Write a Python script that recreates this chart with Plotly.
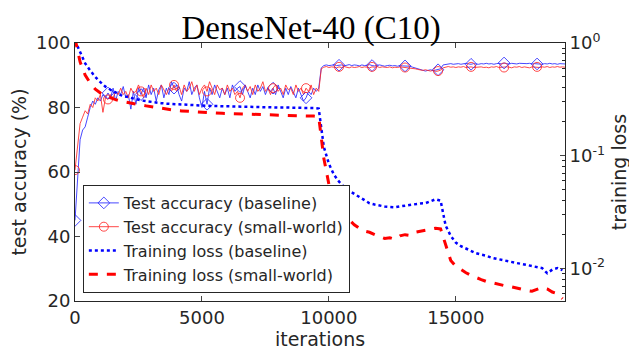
import plotly.graph_objects as go

# ---------------- data ----------------
acc_step = 100
acc_baseline = [
    45, 56, 70, 73, 74, 77, 80, 82, 81, 83,
    82, 84, 83, 84.5, 83, 86, 82, 85, 84, 86.5,
    83, 84, 79.5, 85, 81, 86, 84, 86, 83, 87,
    84, 86, 82, 85.5, 87, 83, 86, 84, 88, 86,
    87, 84, 82, 86, 85, 88, 84, 86, 87, 83,
    80, 85, 81, 86, 84, 87, 85, 83, 86, 84,
    86, 83, 87, 85, 86, 86.5, 84, 87, 85, 83,
    86, 84, 87, 85, 86.5, 84, 86, 85, 86, 84,
    87, 85, 83, 86, 84, 86.5, 85, 83, 86, 84,
    82, 83, 85, 84, 86, 85, 86, 92.3, 93.0, 93.2,
    93.0, 93.1, 93.3, 93.0, 93.1, 93.2, 92.9, 93.1, 93.3, 93.0,
    93.2, 93.1, 92.9, 93.2, 93.0, 93.1, 93.3, 93.0, 92.9, 93.1,
    93.2, 93.0, 92.8, 93.0, 93.1, 92.9, 93.0, 92.8, 93.0, 92.9,
    92.9, 92.7, 92.8, 92.5, 92.3, 92.0, 91.8, 91.5, 91.3, 91.5,
    91.7, 91.4, 91.6, 91.7, 92.0, 93.2, 93.4, 93.5, 93.6, 93.4,
    93.5, 93.6, 93.4, 93.5, 93.7, 93.5, 93.4, 93.6, 93.5, 93.4,
    93.6, 93.5, 93.7, 93.5, 93.6, 93.4, 93.6, 93.7, 93.5, 93.8,
    93.6, 93.5, 93.7, 93.6, 93.5, 93.7, 93.6, 93.5, 93.6, 93.7,
    93.5, 93.6, 93.5, 93.6, 93.4, 93.6, 93.5, 93.7, 93.5, 93.6,
    93.4, 93.6, 93.5, 93.5,
]
acc_smallworld = [
    60.6, 68, 75, 77, 79, 78, 81, 80, 83, 82,
    84, 78.5, 83, 82.5, 84, 83, 85, 84, 86, 84,
    85, 83, 86, 84.5, 85, 87, 85, 83, 86, 84,
    87, 85, 86, 84, 87, 85.5, 84, 86, 85, 87,
    85, 86.5, 84, 87, 85, 86, 88, 85, 87, 84,
    86, 87, 85, 88, 86, 84, 87, 85.5, 86, 84,
    87, 85, 86, 84, 85, 83, 86, 87, 85, 86.5,
    84, 87, 85, 86, 88, 85, 86, 84, 86, 87,
    85, 86, 84, 87, 85.5, 86, 84, 87, 85, 86,
    84, 86, 85, 87, 84, 86, 85, 92.0, 92.5, 92.7,
    92.4, 92.6, 92.5, 92.3, 92.6, 92.4, 92.7, 92.5, 92.3, 92.6,
    92.4, 92.5, 92.7, 92.4, 92.6, 92.5, 92.3, 92.6, 92.5, 92.7,
    92.4, 92.6, 92.5, 92.4, 92.6, 92.3, 92.5, 92.4, 92.6, 92.5,
    92.4, 92.5, 92.3, 92.2, 92.0, 91.8, 91.6, 91.5, 91.7, 91.4,
    91.3, 91.5, 91.2, 91.3, 91.6, 92.3, 92.5, 92.7, 92.5, 92.6,
    92.4, 92.6, 92.5, 92.7, 92.4, 92.6, 92.6, 92.4, 92.5, 92.7,
    92.6, 92.4, 92.5, 92.3, 92.6, 92.5, 92.7, 92.4, 92.5, 92.4,
    92.6, 92.5, 92.3, 92.6, 92.5, 92.7, 92.4, 92.6, 92.5, 92.3,
    92.6, 92.5, 92.6, 92.4, 92.6, 92.5, 92.7, 92.4, 92.6, 92.5,
    92.7, 92.5, 92.6, 92.5,
]
marker_every = 13  # a marker every 1300 iterations

loss_step = 200
loss_baseline = [
    1.05, 0.82, 0.66, 0.57, 0.50, 0.45, 0.41, 0.385, 0.365, 0.345,
    0.335, 0.325, 0.317, 0.31, 0.305, 0.30, 0.297, 0.293, 0.29, 0.288,
    0.286, 0.284, 0.282, 0.281, 0.279, 0.278, 0.277, 0.276, 0.276, 0.275,
    0.274, 0.273, 0.273, 0.272, 0.272, 0.271, 0.27, 0.27, 0.27, 0.269,
    0.268, 0.268, 0.268, 0.267, 0.267, 0.266, 0.266, 0.265, 0.262, 0.12,
    0.085, 0.068, 0.059, 0.053, 0.049, 0.046, 0.043, 0.040, 0.038, 0.037,
    0.036, 0.0355, 0.0352, 0.035, 0.0356, 0.0362, 0.0368, 0.0372, 0.0378, 0.038,
    0.0395, 0.0412, 0.040, 0.024, 0.0195, 0.017, 0.0158, 0.015, 0.0142, 0.0137,
    0.0133, 0.013, 0.0125, 0.0122, 0.0119, 0.0117, 0.0114, 0.0112, 0.011, 0.0108,
    0.0106, 0.0104, 0.0101, 0.0091, 0.0098, 0.0101, 0.0097,
]
loss_smallworld = [
    1.1, 0.68, 0.52, 0.44, 0.39, 0.36, 0.34, 0.325, 0.315, 0.305,
    0.298, 0.292, 0.287, 0.282, 0.277, 0.272, 0.268, 0.264, 0.26, 0.256,
    0.252, 0.25, 0.248, 0.246, 0.244, 0.243, 0.241, 0.24, 0.239, 0.238,
    0.237, 0.236, 0.235, 0.234, 0.233, 0.232, 0.231, 0.231, 0.23, 0.229,
    0.229, 0.228, 0.228, 0.227, 0.227, 0.226, 0.225, 0.225, 0.222, 0.095,
    0.056, 0.040, 0.034, 0.030, 0.027, 0.0245, 0.0228, 0.0215, 0.021, 0.020,
    0.0192, 0.0185, 0.0188, 0.0182, 0.0195, 0.020, 0.0197, 0.021, 0.0215, 0.022,
    0.0223, 0.0228, 0.0225, 0.0165, 0.0118, 0.0105, 0.0098, 0.0092, 0.0087, 0.0083,
    0.008, 0.0077, 0.0075, 0.0073, 0.0072, 0.007, 0.0069, 0.0067, 0.0066, 0.0064,
    0.0063, 0.0065, 0.0068, 0.0066, 0.0062, 0.006, 0.0054,
]

labels = ["Test accuracy (baseline)", "Test accuracy (small-world)",
          "Training loss (baseline)", "Training loss (small-world)"]
title_text = "DenseNet-40 (C10)"
x_ticks = [0, 5000, 10000, 15000]
x_ticktext = ["0", "5000", "10000", "15000"]
y_ticks = [20, 40, 60, 80, 100]
y2_ticks = [1, 0.1, 0.01]
y2_ticktext = ["10<sup>0</sup>", "10<sup>-1</sup>", "10<sup>-2</sup>"]

# ---------------- derived ----------------
acc_iters = [i * acc_step for i in range(len(acc_baseline))]
loss_iters = [i * loss_step for i in range(len(loss_baseline))]
mk_idx = list(range(0, len(acc_baseline), marker_every))

BLUE = "#0000ff"
RED = "#ff0000"
BLUE_T = "rgba(40,40,255,0.85)"
RED_T = "rgba(255,40,40,0.85)"
FONT = "DejaVu Sans"
INK = "#262626"

fig = go.Figure()

# loss curves (right axis)
fig.add_trace(go.Scatter(x=loss_iters, y=loss_baseline, mode="lines", yaxis="y2",
                         line=dict(color=BLUE, width=2.5, dash="dot"), showlegend=False))
fig.add_trace(go.Scatter(x=loss_iters, y=loss_smallworld, mode="lines", yaxis="y2",
                         line=dict(color=RED, width=3, dash="dash"), showlegend=False))

# accuracy curves
fig.add_trace(go.Scatter(x=acc_iters, y=acc_baseline, mode="lines",
                         line=dict(color=BLUE_T, width=1), showlegend=False))
fig.add_trace(go.Scatter(x=acc_iters, y=acc_smallworld, mode="lines",
                         line=dict(color=RED_T, width=1), showlegend=False))
fig.add_trace(go.Scatter(x=[acc_iters[i] for i in mk_idx], y=[acc_baseline[i] for i in mk_idx],
                         mode="markers", showlegend=False,
                         marker=dict(symbol="diamond-open", size=9, color=BLUE_T, line=dict(width=1))))
fig.add_trace(go.Scatter(x=[acc_iters[i] for i in mk_idx], y=[acc_smallworld[i] for i in mk_idx],
                         mode="markers", showlegend=False,
                         marker=dict(symbol="circle-open", size=9, color=RED_T, line=dict(width=1))))

# legend entries
fig.add_trace(go.Scatter(x=[None], y=[None], mode="lines+markers", name=labels[0],
                         line=dict(color=BLUE_T, width=1),
                         marker=dict(symbol="diamond-open", size=9, color=BLUE_T)))
fig.add_trace(go.Scatter(x=[None], y=[None], mode="lines+markers", name=labels[1],
                         line=dict(color=RED_T, width=1),
                         marker=dict(symbol="circle-open", size=9, color=RED_T)))
fig.add_trace(go.Scatter(x=[None], y=[None], mode="lines", name=labels[2],
                         line=dict(color=BLUE, width=2.5, dash="dot")))
fig.add_trace(go.Scatter(x=[None], y=[None], mode="lines", name=labels[3],
                         line=dict(color=RED, width=3, dash="dash")))

minor_vals = [m * 10 ** e for e in (-3, -2, -1) for m in range(2, 10)]

# the page body adds an 8px margin; the figure is sized to fit the 637x354 window
fig.update_layout(
    width=629, height=346,
    margin=dict(l=67, r=72, t=35, b=53),
    paper_bgcolor="white", plot_bgcolor="white",
    font=dict(family=FONT, size=18, color=INK),
    title=dict(text=title_text, x=0.482, xanchor="center", y=0.945, yanchor="middle",
               font=dict(family="Liberation Serif", size=33, color="black")),
    xaxis=dict(range=[0, 19300], tickvals=x_ticks, ticktext=x_ticktext,
               ticks="inside", ticklen=5, automargin=False,
               showline=True, linecolor=INK, linewidth=1, mirror="ticks",
               showgrid=False, zeroline=False, tickfont=dict(size=18),
               title=dict(text="iterations", font=dict(size=19), standoff=6)),
    yaxis=dict(range=[20, 100], tickvals=y_ticks, ticks="inside", ticklen=5,
               automargin=False,
               showline=True, linecolor=INK, linewidth=1,
               showgrid=False, zeroline=False, tickfont=dict(size=18),
               title=dict(text="test accuracy (%)", font=dict(size=19), standoff=7)),
    yaxis2=dict(type="log", range=[-2.287, 0], overlaying="y", side="right",
                tickvals=y2_ticks, ticktext=y2_ticktext, ticks="inside", ticklen=5,
                minor=dict(tickvals=minor_vals, ticks="inside", ticklen=3, tickcolor=INK),
                automargin=False,
                showline=True, linecolor=INK, linewidth=1, tickfont=dict(size=18),
                showgrid=False, zeroline=False,
                title=dict(text="training loss", font=dict(size=19), standoff=8)),
    legend=dict(x=0.016, y=0.031, xanchor="left", yanchor="bottom",
                bgcolor="white", bordercolor=INK, borderwidth=1,
                font=dict(size=16), itemwidth=30),
)

fig.write_html("out.html")
